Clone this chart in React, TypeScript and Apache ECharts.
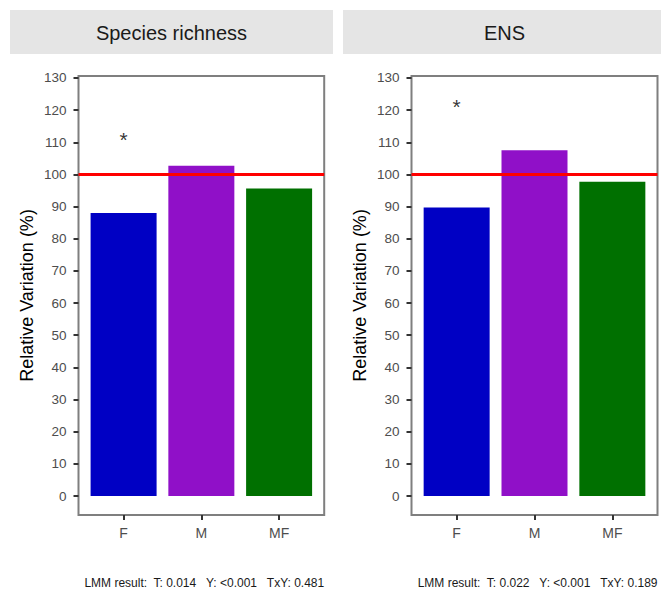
import React, { useEffect, useRef } from "react";
import * as echarts from "echarts";

const panelTitles = ["Species richness", "ENS"];
const categories = ["F", "M", "MF"];
const richnessValues = [88, 102.7, 95.6];
const ensValues = [89.7, 107.5, 97.7];
const starValues = [111, 121];
const yTicks = [0, 10, 20, 30, 40, 50, 60, 70, 80, 90, 100, 110, 120, 130];
const referenceValue = 100;
const captions = [
  "LMM result:\u00A0 T: 0.014\u00A0\u00A0 Y: <0.001\u00A0\u00A0 TxY: 0.481",
  "LMM result:\u00A0 T: 0.022\u00A0\u00A0 Y: <0.001\u00A0\u00A0 TxY: 0.189",
];
const barColors = ["#0000C4", "#9010C8", "#007000"];

const FONT = "'Liberation Sans', Arial, sans-serif";

export default function App() {
  const ref = useRef<HTMLDivElement>(null);
  useEffect(() => {
    if (!ref.current) return;
    const chart = echarts.init(ref.current, undefined, { renderer: "svg" });
    const grids = [
      { left: 78.5, top: 76, width: 245.7, height: 439 },
      { left: 411.5, top: 76, width: 246, height: 439 },
    ];
    const stripRects = [
      { x: 10, w: 323 },
      { x: 343, w: 323 },
    ];
    const seriesValues = [richnessValues, ensValues];
    const option: any = {
      animation: false,
      backgroundColor: "#ffffff",
      grid: grids.map((g) => ({
        ...g,
        show: true,
        borderColor: "#7F7F7F",
        borderWidth: 2,
        backgroundColor: "transparent",
        containLabel: false,
      })),
      xAxis: grids.map((_, i) => ({
        type: "value",
        gridIndex: i,
        min: -0.58,
        max: 2.58,
        axisLine: { show: false, onZero: false },
        splitLine: { show: false },
        axisTick: {
          show: true,
          customValues: [0, 1, 2],
          length: 5,
          lineStyle: { color: "#333333", width: 2 },
        },
        axisLabel: {
          customValues: [0, 1, 2],
          formatter: (v: number) => categories[Math.round(v)] ?? "",
          color: "#4D4D4D",
          fontSize: 14,
          fontFamily: FONT,
          margin: 11,
        },
      })),
      yAxis: grids.map((_, i) => ({
        type: "value",
        gridIndex: i,
        min: -5.9,
        max: 130.6,
        name: "Relative Variation (%)",
        nameLocation: "middle",
        nameRotate: 90,
        nameGap: 43,
        nameTextStyle: { color: "#000000", fontSize: 18, fontFamily: FONT },
        axisLine: { show: false, onZero: false },
        splitLine: { show: false },
        axisTick: {
          show: true,
          customValues: yTicks,
          length: 5,
          lineStyle: { color: "#333333", width: 2 },
        },
        axisLabel: {
          customValues: yTicks,
          color: "#4D4D4D",
          fontSize: 13.5,
          fontFamily: FONT,
          margin: 12,
        },
      })),
      series: [
        ...seriesValues.map((vals, i) => ({
          type: "bar",
          xAxisIndex: i,
          yAxisIndex: i,
          barWidth: 66,
          data: vals.map((v, j) => ({
            value: [j, v],
            itemStyle: { color: barColors[j] },
          })),
          markLine: {
            silent: true,
            symbol: "none",
            label: { show: false },
            lineStyle: { color: "#FF0000", width: 3, type: "solid" },
            data: [{ yAxis: referenceValue }],
          },
        })),
        ...starValues.map((v, i) => ({
          type: "scatter",
          xAxisIndex: i,
          yAxisIndex: i,
          symbolSize: 0,
          data: [[0, v]],
          label: {
            show: true,
            position: "inside",
            formatter: "*",
            color: "#000000",
            fontSize: 21,
            fontFamily: FONT,
          },
        })),
      ],
      graphic: [
        ...stripRects.map((s, i) => ({
          type: "group",
          children: [
            {
              type: "rect",
              shape: { x: s.x, y: 10, width: s.w, height: 44 },
              style: { fill: "#E5E5E5" },
            },
            {
              type: "text",
              x: s.x + s.w / 2,
              y: 33,
              style: {
                text: panelTitles[i],
                fill: "#1A1A1A",
                fontSize: 20,
                fontFamily: FONT,
                align: "center",
                verticalAlign: "middle",
              },
            },
          ],
        })),
        ...captions.map((c, i) => ({
          type: "text",
          x: grids[i].left + grids[i].width,
          y: 583,
          style: {
            text: c,
            fill: "#1A1A1A",
            fontSize: 12,
            fontFamily: FONT,
            align: "right",
            verticalAlign: "middle",
          },
        })),
      ],
    };
    chart.setOption(option);
    return () => chart.dispose();
  }, []);
  return (
    <div
      ref={ref}
      style={{ position: "fixed", left: 0, top: 0, width: 661, height: 590 }}
    />
  );
}
